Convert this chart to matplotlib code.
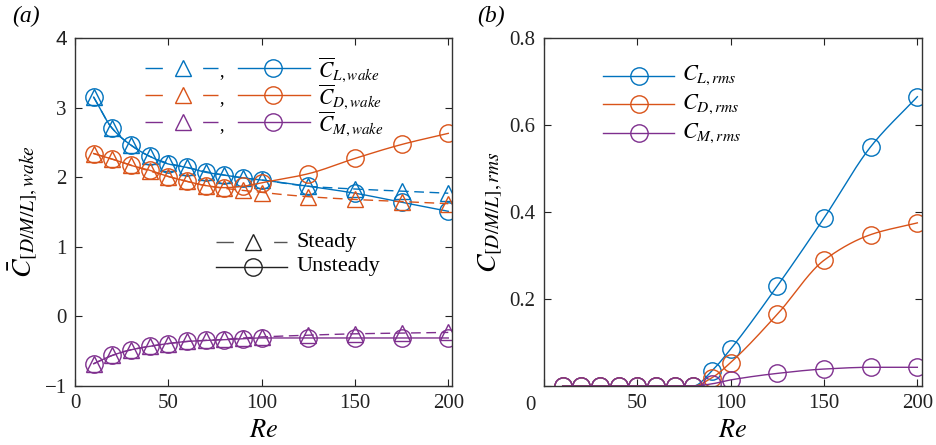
import numpy as np
import matplotlib
matplotlib.use("Agg")
import matplotlib.pyplot as plt

plt.rcParams['font.family'] = ['Liberation Serif', 'DejaVu Serif']
plt.rcParams['mathtext.fontset'] = 'stix'

# ---------------- data ----------------
re_all = [10, 20, 30, 40, 50, 60, 70, 80, 90, 100, 125, 150, 175, 200]

cl_steady = [3.15, 2.70, 2.46, 2.30, 2.20, 2.14, 2.08, 2.03, 1.99, 1.96, 1.87, 1.83, 1.80, 1.77]
cd_steady = [2.34, 2.26, 2.17, 2.09, 2.01, 1.94, 1.88, 1.84, 1.81, 1.78, 1.72, 1.68, 1.65, 1.62]
cm_steady = [-0.68, -0.56, -0.48, -0.43, -0.39, -0.36, -0.345, -0.33, -0.31, -0.295, -0.27, -0.25, -0.24, -0.23]

cl_unsteady = [3.15, 2.70, 2.46, 2.30, 2.19, 2.14, 2.07, 2.03, 1.99, 1.96, 1.87, 1.77, 1.64, 1.51]
cd_unsteady = [2.34, 2.26, 2.17, 2.10, 2.01, 1.94, 1.88, 1.85, 1.87, 1.92, 2.05, 2.27, 2.47, 2.63]
cm_unsteady = [-0.68, -0.56, -0.48, -0.43, -0.39, -0.36, -0.345, -0.335, -0.32, -0.31, -0.31, -0.31, -0.31, -0.31]

cl_rms = [0, 0, 0, 0, 0, 0, 0, 0, 0.035, 0.085, 0.23, 0.386, 0.55, 0.665]
cd_rms = [0, 0, 0, 0, 0, 0, 0, 0, 0.019, 0.054, 0.165, 0.289, 0.348, 0.375]
cm_rms = [0, 0, 0, 0, 0, 0, 0, 0, 0.005, 0.014, 0.029, 0.039, 0.043, 0.043]

left_yticks = [-1, 0, 1, 2, 3, 4]
left_xticks = [0, 50, 100, 150, 200]
right_yticks = [0, 0.2, 0.4, 0.6, 0.8]
right_xticks = [0, 50, 100, 150, 200]

BLUE = '#0072BD'
RED = '#D95319'
PURPLE = '#7E2F8E'


def pchip(x, y, xn):
    x = np.asarray(x, float); y = np.asarray(y, float)
    h = np.diff(x); d = np.diff(y) / h
    n = len(x); m = np.zeros(n)
    for k in range(1, n - 1):
        if d[k - 1] * d[k] > 0:
            w1 = 2 * h[k] + h[k - 1]; w2 = h[k] + 2 * h[k - 1]
            m[k] = (w1 + w2) / (w1 / d[k - 1] + w2 / d[k])
    m[0] = d[0]; m[-1] = d[-1]
    idx = np.clip(np.searchsorted(x, xn) - 1, 0, n - 2)
    t = (xn - x[idx]) / h[idx]
    h00 = 2 * t**3 - 3 * t**2 + 1; h10 = t**3 - 2 * t**2 + t
    h01 = -2 * t**3 + 3 * t**2; h11 = t**3 - t**2
    return h00 * y[idx] + h10 * h[idx] * m[idx] + h01 * y[idx + 1] + h11 * h[idx] * m[idx + 1]


fig = plt.figure(figsize=(9.37, 4.45), dpi=100)
W, H = 937, 445
axL = fig.add_axes([75 / W, 1 - 386 / H, 377 / W, 348 / H])
axR = fig.add_axes([544 / W, 1 - 386 / H, 378 / W, 348 / H])

xs = np.linspace(10, 200, 400)
MS_T = 12
MS_C = 12.5
LW = 1.0
dash = (7, 4)

for ys, yu, c in [(cl_steady, cl_unsteady, BLUE), (cd_steady, cd_unsteady, RED),
                  (cm_steady, cm_unsteady, PURPLE)]:
    axL.plot(xs, pchip(re_all, ys, xs), color=c, lw=LW, dashes=dash)
    axL.plot(re_all, ys, ls='none', marker='^', ms=MS_T, mfc='none', mec=c, mew=1.0)
    axL.plot(xs, pchip(re_all, yu, xs), color=c, lw=LW)
    axL.plot(re_all, yu, ls='none', marker='o', ms=MS_C, mfc='none', mec=c, mew=1.0)

for yr, c in [(cl_rms, BLUE), (cd_rms, RED), (cm_rms, PURPLE)]:
    axR.plot(xs, pchip(re_all, yr, xs), color=c, lw=LW)
    axR.plot(re_all, yr, ls='none', marker='o', ms=MS_C, mfc='none', mec=c, mew=1.0)

for ax in (axL, axR):
    ax.tick_params(direction='in', top=True, right=True, length=5, width=0.8,
                   labelsize=15, pad=6, colors='#222222')
    for s in ax.spines.values():
        s.set_linewidth(1.0)
        s.set_color('#333333')
    ax.set_xlabel('$Re$', fontsize=19, labelpad=5)

axL.set_xlim(0, 202)
axL.set_ylim(-1, 4)
axL.set_xticks(left_xticks)
axL.set_yticks(left_yticks)
axL.set_yticklabels(['\u22121', '0', '1', '2', '3', '4'])
axL.get_yticklabels()[-1].set_fontfamily('Liberation Sans')
axL.set_ylabel(r'$\bar{C}_{[D/M/L],wake}$', fontsize=20, labelpad=3)

axR.set_xlim(0, 202.5)
axR.set_ylim(0, 0.8)
axR.set_xticks(right_xticks)
axR.set_xticklabels(['', '50', '100', '150', '200'])
axR.set_yticks(right_yticks)
axR.set_yticklabels(['', '0.2', '0.4', '0.6', '0.8'])
axR.text(-0.035, -0.055, '0', transform=axR.transAxes, fontsize=15, ha='center', va='center',
         color='#222222')
axR.set_ylabel(r'$C_{[D/M/L],rms}$', fontsize=20, labelpad=3)

fig.text(12 / W, 1 - 16 / H, '(a)', fontsize=17, fontstyle='italic', va='center', ha='left')
fig.text(477 / W, 1 - 16 / H, '(b)', fontsize=17, fontstyle='italic', va='center', ha='left')


# ---------------- legends drawn manually (axes coords) ----------------
def fx(px, ax_left=75, ax_w=377):
    return (px - ax_left) / ax_w


def fy(py):
    return (386 - py) / 348


labels_L = [r'$\overline{C}_{L,wake}$', r'$\overline{C}_{D,wake}$', r'$\overline{C}_{M,wake}$']
for row, (c, lab) in enumerate(zip([BLUE, RED, PURPLE], labels_L)):
    yy = fy([67.7, 95, 122][row])
    axL.plot([fx(145), fx(218)], [yy, yy], transform=axL.transAxes, color=c, lw=LW,
             dashes=(12.5, 29), clip_on=False)
    axL.plot([fx(183)], [yy], transform=axL.transAxes, marker='^', ms=MS_T, mfc='none',
             mec=c, mew=1.0, clip_on=False)
    axL.text(fx(222), yy - 0.01, ',', transform=axL.transAxes, fontsize=13, ha='center', va='center')
    axL.plot([fx(238), fx(310)], [yy, yy], transform=axL.transAxes, color=c, lw=LW, clip_on=False)
    axL.plot([fx(273)], [yy], transform=axL.transAxes, marker='o', ms=MS_C, mfc='none',
             mec=c, mew=1.0, clip_on=False)
    axL.text(fx(318), yy - 0.005, lab, transform=axL.transAxes, fontsize=15.5, ha='left',
             va='center')

yy = fy(242)
axL.plot([fx(216), fx(287)], [yy, yy], transform=axL.transAxes, color='#555555', lw=LW,
         dashes=(12.5, 29))
axL.plot([fx(253)], [yy], transform=axL.transAxes, marker='^', ms=MS_T, mfc='none',
         mec='#222222', mew=1.0)
axL.text(fx(297), yy, 'Steady', transform=axL.transAxes, fontsize=16, ha='left', va='center')
yy = fy(267)
axL.plot([fx(216), fx(287)], [yy, yy], transform=axL.transAxes, color='#222222', lw=LW)
axL.plot([fx(253)], [yy], transform=axL.transAxes, marker='o', ms=MS_C, mfc='none',
         mec='#222222', mew=1.0)
axL.text(fx(297), yy, 'Unsteady', transform=axL.transAxes, fontsize=16, ha='left', va='center')

labels_R = [r'$C_{L,rms}$', r'$C_{D,rms}$', r'$C_{M,rms}$']
for row, (c, lab) in enumerate(zip([BLUE, RED, PURPLE], labels_R)):
    yy = fy([75.7, 104.3, 133.3][row])
    axR.plot([fx(603, 544, 378), fx(674, 544, 378)], [yy, yy], transform=axR.transAxes,
             color=c, lw=LW)
    axR.plot([fx(639, 544, 378)], [yy], transform=axR.transAxes, marker='o', ms=MS_C,
             mfc='none', mec=c, mew=1.0)
    axR.text(fx(682, 544, 378), yy, lab, transform=axR.transAxes, fontsize=16, ha='left',
             va='center')

fig.savefig('out.png', dpi=100)
